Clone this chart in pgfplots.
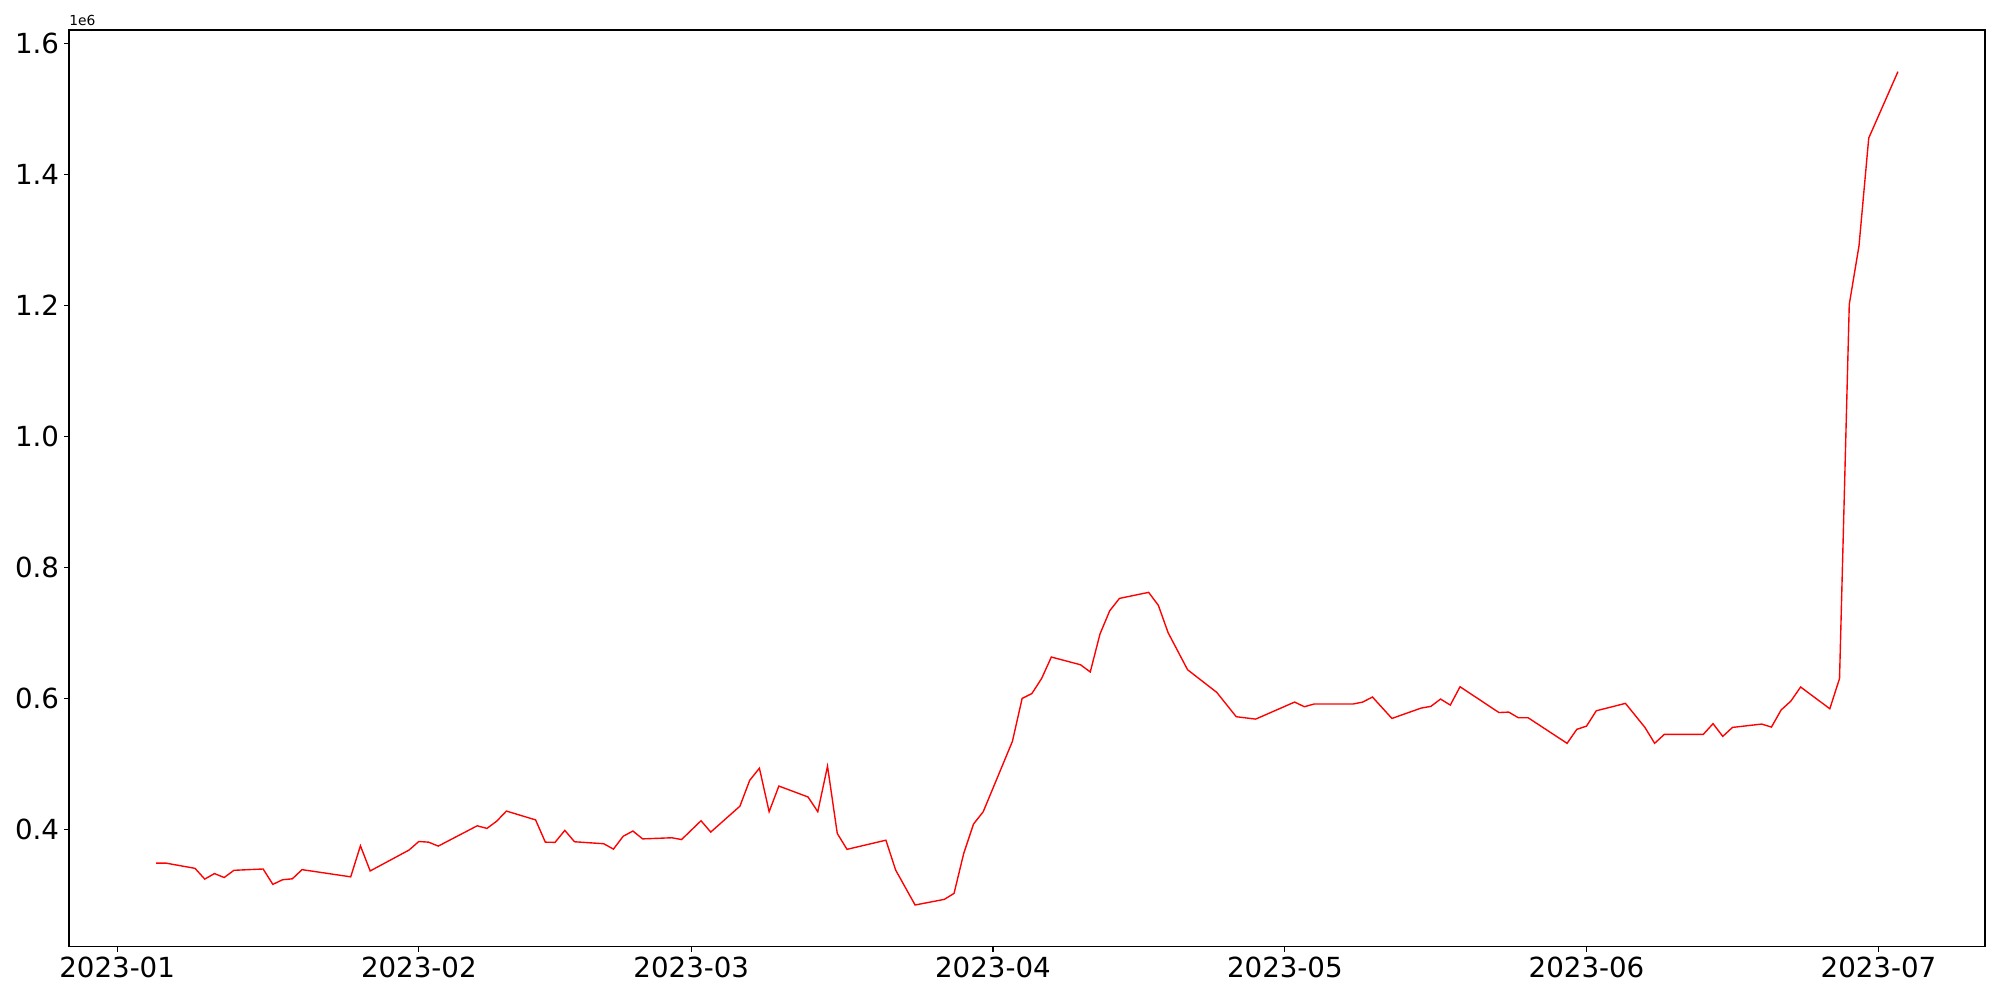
\documentclass[border=0pt]{standalone}
\usepackage{fontspec}
\setmainfont{DejaVu Sans}
\usepackage{pgfplots}
\pgfplotsset{compat=1.18}
\begin{document}
\begin{tikzpicture}
\begin{axis}[
  at={(0,0)}, anchor=south west,
  scale only axis, width=19.16in, height=9.167in,
  xmin=-4.95, xmax=191.95, ymin=0.2203, ymax=1.6207,
  axis line style={line width=0.8pt},
  tick style={line width=0.8pt, black},
  major tick length=3.5pt,
  tick align=outside,
  tick pos=left,
  xtick={0,31,59,90,120,151,181},
  xticklabels={2023-01,2023-02,2023-03,2023-04,2023-05,2023-06,2023-07},
  ytick={0.4,0.6,0.8,1.0,1.2,1.4,1.6},
  yticklabels={0.4,0.6,0.8,1.0,1.2,1.4,1.6},
  tick label style={font=\fontsize{20}{24}\selectfont, inner sep=0pt},
  xticklabel style={yshift=-3.5pt},
  yticklabel style={xshift=-3.5pt},
]
\addplot[red, line width=1pt] table {
x y
4 0.348
5 0.348
8 0.340
9 0.3236
10 0.332
11 0.326
12 0.337
15 0.339
16 0.3155
17 0.3226
18 0.324
19 0.338
24 0.327
25 0.3745
26 0.336
30 0.368
31 0.381
32 0.380
33 0.374
37 0.405
38 0.401
39 0.412
40 0.4275
43 0.414
44 0.380
45 0.3797
46 0.398
47 0.3806
50 0.3776
51 0.3694
52 0.389
53 0.397
54 0.385
57 0.3867
58 0.384
60 0.4127
61 0.3954
64 0.435
65 0.4744
66 0.493
67 0.4265
68 0.4657
71 0.449
72 0.4265
73 0.496
74 0.3934
75 0.369
79 0.383
80 0.3374
82 0.284
85 0.2926
86 0.3017
87 0.363
88 0.4076
89 0.4265
92 0.534
93 0.5996
94 0.607
95 0.630
96 0.6628
99 0.651
100 0.640
101 0.698
102 0.7335
103 0.7524
106 0.7616
107 0.7417
108 0.700
110 0.6434
113 0.6088
115 0.5716
117 0.568
121 0.594
122 0.5869
123 0.591
127 0.591
128 0.594
129 0.6017
131 0.569
134 0.5848
135 0.5874
136 0.5986
137 0.5894
138 0.6174
142 0.578
143 0.5787
144 0.570
145 0.570
149 0.531
150 0.5523
151 0.5573
152 0.5807
155 0.592
157 0.5553
158 0.531
159 0.5447
163 0.5447
164 0.561
165 0.5416
166 0.5553
169 0.5604
170 0.5558
171 0.582
172 0.5955
173 0.617
176 0.5838
177 0.630
178 1.2016
179 1.291
180 1.4556
183 1.557
};
\end{axis}
\node[anchor=base west, font=\fontsize{10}{12}\selectfont, inner sep=0pt] at (0,9.21in) {1e6};
\pgfresetboundingbox
\path[use as bounding box] (-0.69in,-0.533in) rectangle (19.31in,9.467in);
\end{tikzpicture}
\end{document}
